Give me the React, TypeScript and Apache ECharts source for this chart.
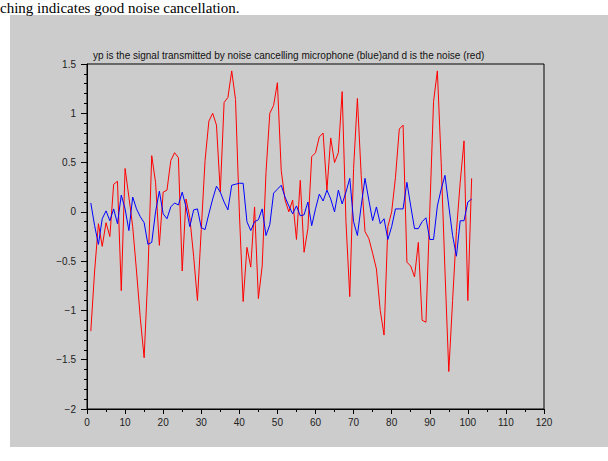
import React, { useEffect, useRef } from "react";
import * as echarts from "echarts";

const xTicks = [0, 10, 20, 30, 40, 50, 60, 70, 80, 90, 100, 110, 120];
const yTicks = [-2, -1.5, -1, -0.5, 0, 0.5, 1, 1.5];

// d : noise (red)
const noiseD = [
  -1.21, -0.6, -0.12, -0.35, -0.11, -0.25, 0.28, 0.31, -0.8, 0.44,
  0.15, -0.15, -0.6, -1.08, -1.48, -0.62, 0.57, 0.3, -0.34, 0.2,
  0.22, 0.52, 0.6, 0.55, -0.6, 0.13, -0.06, -0.45, -0.9, -0.18,
  0.52, 0.92, 1.0, 0.88, 0.2, 1.11, 1.16, 1.43, 1.14, 0.0,
  -0.91, -0.36, -0.56, 0.05, -0.88, -0.55, 0.4, 1.0, 1.08, 1.31,
  0.42, 0.12, 0.0, 0.12, -0.28, 0.32, -0.41, -0.17, 0.56, 0.6,
  0.76, 0.8, 0.22, 0.75, 0.5, 0.6, 1.22, -0.1, -0.86, 0.44,
  1.15, 0.37, -0.2, -0.27, -0.42, -0.58, -1.0, -1.25, -0.15, 0.0,
  0.35, 0.84, 0.88, -0.51, -0.55, -0.66, -0.31, -1.1, -1.12, 0.0,
  1.12, 1.43, 0.5, -0.6, -1.62, -0.9, -0.2, 0.3, 0.72, -0.9,
  0.34,
];

// yp : signal transmitted by noise cancelling microphone (blue)
const signalYp = [
  0.09, -0.14, -0.33, -0.07, 0.01, -0.09, 0.03, -0.12, 0.17, 0.03,
  -0.19, 0.15, 0.03, -0.05, -0.11, -0.33, -0.31, 0.0, 0.21, -0.02,
  -0.07, 0.05, 0.09, 0.07, 0.2, 0.05, -0.15, 0.02, 0.03, -0.16,
  -0.18, -0.02, 0.13, 0.26, 0.2, 0.1, 0.02, 0.27, 0.28, 0.29,
  0.29, -0.1, -0.19, -0.1, -0.08, 0.03, -0.24, -0.13, 0.19, 0.23,
  0.27, 0.15, 0.06, -0.02, 0.06, -0.04, -0.03, 0.1, -0.14, 0.03,
  0.18, 0.11, 0.22, 0.13, 0.0, 0.22, 0.08, 0.2, 0.34, -0.1,
  -0.24, 0.06, 0.34, 0.12, -0.09, 0.05, -0.12, -0.07, -0.28, -0.15,
  0.03, 0.03, 0.03, 0.3, 0.06, -0.17, -0.17, -0.1, -0.06, -0.28,
  -0.28, 0.06, 0.23, 0.37, 0.06, -0.24, -0.45, -0.09, -0.09, 0.1,
  0.13,
];

const sampleIndex = noiseD.map((_, i) => i + 1);

const titleText =
  "yp is the signal transmitted by noise cancelling microphone (blue)and d is the noise (red)";
const captionText = "ching indicates good noise cancellation.";

const fmt = (v: number) => String(v).replace("-", "\u2212");

export default function App() {
  const ref = useRef<HTMLDivElement>(null);
  useEffect(() => {
    if (!ref.current) return;
    const chart = echarts.init(ref.current, undefined, { renderer: "svg" });
    const labelStyle = {
      color: "#222",
      fontSize: 10,
      fontFamily: "Liberation Sans",
    };
    chart.setOption({
      animation: false,
      backgroundColor: "#ffffff",
      title: {
        text: titleText,
        left: 88,
        top: 45,
        textStyle: {
          fontSize: 10,
          fontWeight: "normal",
          color: "#111",
          fontFamily: "Liberation Sans",
        },
      },
      graphic: [
        {
          type: "rect",
          z: -10,
          silent: true,
          shape: { x: 10, y: 15, width: 598, height: 432 },
          style: { fill: "#cccccc" },
        },
        {
          type: "text",
          x: 0,
          y: 0,
          silent: true,
          style: {
            text: captionText,
            fontSize: 15,
            fontFamily: "Liberation Serif",
            fill: "#000",
            verticalAlign: "top",
          },
        },
      ],
      grid: {
        left: 87,
        right: 64,
        top: 64,
        bottom: 52,
        show: true,
        borderColor: "#000",
        borderWidth: 1,
        backgroundColor: "transparent",
      },
      xAxis: {
        type: "value",
        min: xTicks[0],
        max: xTicks[xTicks.length - 1],
        interval: 10,
        axisLine: { show: true, onZero: false, lineStyle: { color: "#000", width: 1 } },
        axisTick: { show: true, length: 5, lineStyle: { color: "#000" } },
        minorTick: { show: true, splitNumber: 2, length: 3, lineStyle: { color: "#000" } },
        splitLine: { show: false },
        axisLabel: { ...labelStyle, margin: 8, formatter: (v: number) => fmt(v) },
      },
      yAxis: {
        type: "value",
        min: yTicks[0],
        max: yTicks[yTicks.length - 1],
        interval: 0.5,
        axisLine: { show: true, onZero: false, lineStyle: { color: "#000", width: 1 } },
        axisTick: { show: true, length: 6, lineStyle: { color: "#000" } },
        minorTick: { show: true, splitNumber: 5, length: 3, lineStyle: { color: "#000" } },
        splitLine: { show: false },
        axisLabel: { ...labelStyle, margin: 11, formatter: (v: number) => fmt(v) },
      },
      series: [
        {
          name: "d",
          type: "line",
          data: sampleIndex.map((x, i) => [x, noiseD[i]]),
          showSymbol: false,
          symbol: "none",
          lineStyle: { color: "#ff0000", width: 1 },
          z: 2,
        },
        {
          name: "yp",
          type: "line",
          data: sampleIndex.map((x, i) => [x, signalYp[i]]),
          showSymbol: false,
          symbol: "none",
          lineStyle: { color: "#0000ff", width: 1 },
          z: 3,
        },
      ],
    });
    return () => chart.dispose();
  }, []);
  return (
    <div
      ref={ref}
      style={{ position: "fixed", left: 0, top: 0, width: 608, height: 461 }}
    />
  );
}
